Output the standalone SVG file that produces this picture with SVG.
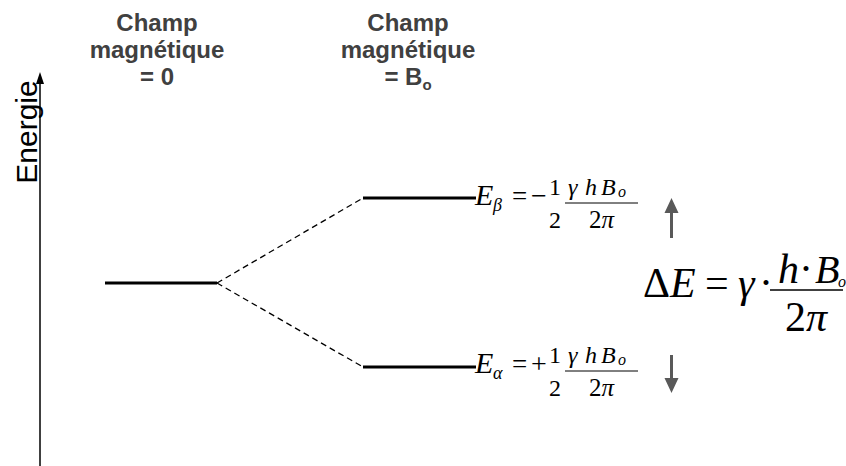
<svg xmlns="http://www.w3.org/2000/svg" width="846" height="466" viewBox="0 0 846 466">
<style>
.hd{font-family:"Liberation Sans",Arial,sans-serif;font-weight:bold;font-size:24px;fill:#404040;text-anchor:middle}
.m{font-family:"Liberation Serif","Times New Roman",serif;fill:#000}
.i{font-style:italic}
.lvl{stroke:#000;stroke-width:3;fill:none}
.dash{stroke:#000;stroke-width:1.3;stroke-dasharray:6 4;fill:none}
.bar{stroke:#000;stroke-width:1;fill:none}
.gar{fill:#595959}
</style>
<rect width="846" height="466" fill="#fff"/>
<g id="axis">
<line x1="40" y1="466" x2="40" y2="76" stroke="#000" stroke-width="1.5"/>
<path d="M36,84 L40,72 L44,84 Z" fill="#000"/>
<text x="37" y="132" transform="rotate(-90 37 132)" font-family="Liberation Sans,Arial,sans-serif" font-size="30" text-anchor="middle" fill="#000">Energie</text>
</g>
<g id="header0">
<text class="hd" x="157" y="31">Champ</text>
<text class="hd" x="157" y="58">magnétique</text>
<text class="hd" x="157" y="85">= 0</text>
</g>
<g id="headerB">
<text class="hd" x="408" y="31">Champ</text>
<text class="hd" x="408" y="58">magnétique</text>
<text class="hd" x="408" y="85">= B<tspan font-size="15" dy="5">o</tspan></text>
</g>
<g id="level0"><line class="lvl" x1="105" y1="283" x2="217" y2="283"/></g>
<g id="levelBeta"><line class="lvl" x1="363" y1="198" x2="476" y2="198"/></g>
<g id="levelAlpha"><line class="lvl" x1="363" y1="367" x2="476" y2="367"/></g>
<g id="connectors">
<line class="dash" x1="217" y1="283" x2="363" y2="198"/>
<line class="dash" x1="217" y1="283" x2="363" y2="367"/>
</g>
<g id="eqBeta" class="m">
<text class="i" x="475" y="205" font-size="30">E</text>
<text class="i" x="493" y="211" font-size="18">β</text>
<text x="512" y="205" font-size="27">=</text>
<text x="531" y="205" font-size="28">−</text>
<text x="549" y="195" font-size="24">1</text>
<text x="549" y="228" font-size="24">2</text>
<text class="i" x="568" y="195" font-size="24">γ</text>
<text class="i" x="585" y="195" font-size="24">h</text>
<text class="i" x="601" y="195" font-size="24">B</text>
<text class="i" x="618" y="197" font-size="16">o</text>
<line class="bar" x1="565" y1="203" x2="638" y2="203"/>
<text x="589" y="228" font-size="25">2<tspan class="i">π</tspan></text>
</g>
<g id="eqAlpha" class="m">
<text class="i" x="475" y="373" font-size="30">E</text>
<text class="i" x="493" y="379" font-size="18">α</text>
<text x="512" y="373" font-size="27">=</text>
<text x="531" y="373" font-size="28">+</text>
<text x="549" y="363" font-size="24">1</text>
<text x="549" y="396" font-size="24">2</text>
<text class="i" x="568" y="363" font-size="24">γ</text>
<text class="i" x="585" y="363" font-size="24">h</text>
<text class="i" x="601" y="363" font-size="24">B</text>
<text class="i" x="618" y="365" font-size="16">o</text>
<line class="bar" x1="565" y1="371" x2="638" y2="371"/>
<text x="589" y="396" font-size="25">2<tspan class="i">π</tspan></text>
</g>
<g id="arrowUp"><path class="gar" d="M670,238 L670,213 L664.5,213 L671.5,198 L678.5,213 L673,213 L673,238 Z"/></g>
<g id="arrowDown"><path class="gar" d="M670,355 L670,378 L664.5,378 L671.5,393 L678.5,378 L673,378 L673,355 Z"/></g>
<g id="deltaE" class="m">
<text x="643" y="297" font-size="42">Δ<tspan class="i">E</tspan></text>
<text x="705" y="297" font-size="42">=</text>
<text class="i" x="738" y="297" font-size="42">γ</text>
<text x="759" y="297" font-size="42">·</text>
<text class="i" x="778" y="283" font-size="42">h</text>
<text x="799" y="283" font-size="42">·</text>
<text class="i" x="815" y="283" font-size="40">B</text>
<text class="i" x="838" y="287" font-size="16">o</text>
<line x1="770" y1="290" x2="843" y2="290" stroke="#000" stroke-width="1.5"/>
<text x="785" y="331" font-size="42">2<tspan class="i">π</tspan></text>
</g>
</svg>
